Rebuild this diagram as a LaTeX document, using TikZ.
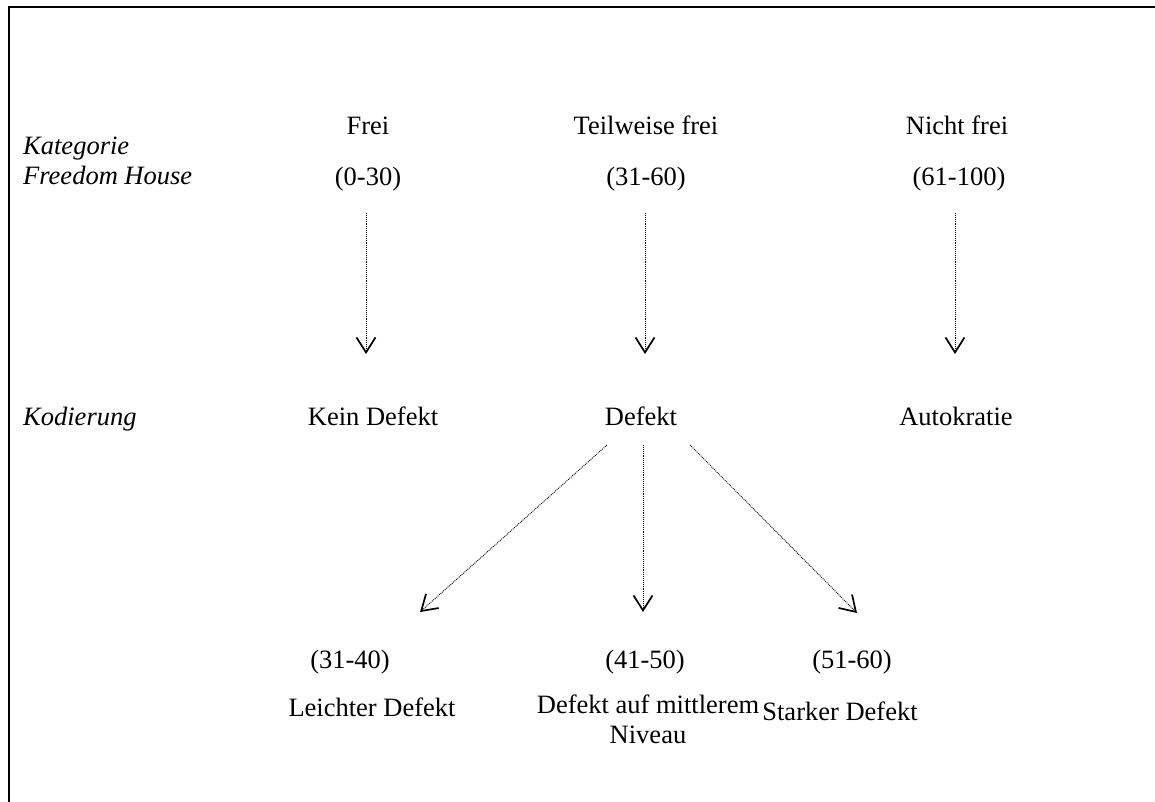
\documentclass[tikz,border=0pt]{standalone}
\usepackage{fontspec}
\setmainfont{Liberation Serif}
\usetikzlibrary{arrows.meta}
\begin{document}
\begin{tikzpicture}[x=1pt,y=-1pt,
  lbl/.style={anchor=base,inner sep=0pt,font=\fontsize{26.5}{30}\selectfont},
  side/.style={lbl,anchor=base west,font=\fontsize{26.5}{30}\selectfont\itshape},
  flow/.style={line width=0.9pt,densely dotted,-{Straight Barb[length=15pt,width=19pt,line width=1.7pt]}}]
\useasboundingbox (0,0) rectangle (1155,801);
\clip (0,0) rectangle (1155,801);
\draw[line width=2.2pt] (9,820) -- (9,7) -- (1170,7);
% left labels
\node[side] (kat) at (23,154) {Kategorie};
\node[side] (fh) at (23,184) {Freedom House};
\node[side] (kod) at (23,425) {Kodierung};
% top row
\node[lbl] (frei) at (368,134) {Frei};
\node[lbl] (f030) at (368,185) {(0-30)};
\node[lbl] (tfrei) at (646,134) {Teilweise frei};
\node[lbl] (f3160) at (646,185) {(31-60)};
\node[lbl] (nfrei) at (957,134) {Nicht frei};
\node[lbl] (f61100) at (959,185) {(61-100)};
% middle row
\node[lbl] (kein) at (373,425) {Kein Defekt};
\node[lbl] (def) at (641,425) {Defekt};
\node[lbl] (auto) at (956,425) {Autokratie};
% bottom row
\node[lbl] (b1) at (350,668) {(31-40)};
\node[lbl] (b2) at (645,668) {(41-50)};
\node[lbl] (b3) at (852,668) {(51-60)};
\node[lbl] (l1) at (372,716) {Leichter Defekt};
\node[lbl] (l2) at (648,713) {Defekt auf mittlerem};
\node[lbl] (l2b) at (648,743) {Niveau};
\node[lbl] (l3) at (840,720) {Starker Defekt};
% connector end points
\coordinate (a1s) at (366,213); \coordinate (a1e) at (366,354);
\coordinate (a2s) at (645,213); \coordinate (a2e) at (645,354);
\coordinate (a3s) at (955,213); \coordinate (a3e) at (955,354);
\coordinate (d1s) at (607,445); \coordinate (d1e) at (420,612);
\coordinate (d2s) at (643,445); \coordinate (d2e) at (643,612);
\coordinate (d3s) at (690,445); \coordinate (d3e) at (857,613);
\draw[flow] (a1s) -- (a1e);
\draw[flow] (a2s) -- (a2e);
\draw[flow] (a3s) -- (a3e);
\draw[flow] (d1s) -- (d1e);
\draw[flow] (d2s) -- (d2e);
\draw[flow] (d3s) -- (d3e);
\end{tikzpicture}
\end{document}
